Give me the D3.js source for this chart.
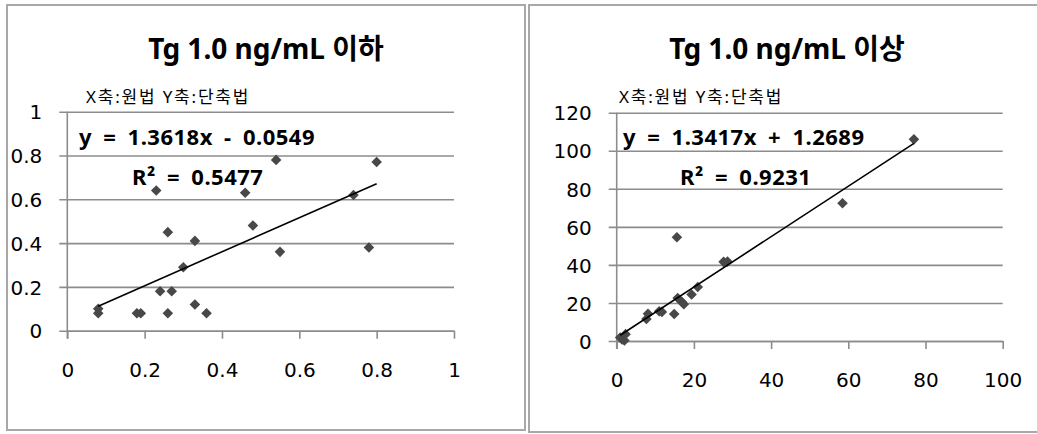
<!DOCTYPE html>
<html>
<head>
<meta charset="utf-8">
<script src="https://cdn.jsdelivr.net/npm/d3@7"></script>
<style>
  html, body { margin: 0; padding: 0; background: #fff; }
  svg text { font-family: "Noto Sans", "Noto Sans CJK KR", sans-serif; fill: #000; }
  svg .tick text { font-family: "DejaVu Sans", "Noto Sans", sans-serif; }
</style>
</head>
<body>
<svg id="chart" width="1037" height="434"></svg>
<script>
// Tg ≤ 1.0 ng/mL: original method (x) vs. shortened method (y)
const lowX = [0.08, 0.08, 0.18, 0.19, 0.23, 0.24, 0.26, 0.26, 0.27, 0.30,
              0.33, 0.33, 0.36, 0.46, 0.48, 0.54, 0.55, 0.74, 0.78, 0.80];
const lowY = [0.10, 0.08, 0.08, 0.08, 0.64, 0.18, 0.45, 0.08, 0.18, 0.29,
              0.41, 0.12, 0.08, 0.63, 0.48, 0.78, 0.36, 0.62, 0.38, 0.77];
const lowTicksX = [0, 0.2, 0.4, 0.6, 0.8, 1];
const lowTicksY = [0, 0.2, 0.4, 0.6, 0.8, 1];

// Tg ≥ 1.0 ng/mL
const highX = [0.9, 1.4, 2.0, 2.3, 7.7, 8.1, 11.0, 11.7, 14.9, 15.6,
               15.8, 16.9, 17.4, 19.4, 21.0, 27.7, 28.7, 58.5, 77.0];
const highY = [1.8, 0.8, 0.3, 3.6, 11.6, 14.3, 15.6, 15.3, 14.2, 54.5,
               22.6, 20.5, 19.3, 24.4, 28.4, 41.6, 41.8, 72.4, 106.0];
const highTicksX = [0, 20, 40, 60, 80, 100];
const highTicksY = [0, 20, 40, 60, 80, 100, 120];

const titles = ["Tg 1.0 ng/mL 이하", "Tg 1.0 ng/mL 이상"];
const axisNote = "X축:원법 Y축:단축법";
const equations = ["y = 1.3618x - 0.0549", "y = 1.3417x + 1.2689"];
const rSquared = ["R² = 0.5477", "R² = 0.9231"];

const svg = d3.select("#chart");
const gridColor = "#8c8c8c";

// least-squares fit used for the trend line
function fit(xs, ys) {
  const mx = d3.mean(xs), my = d3.mean(ys);
  let sxy = 0, sxx = 0;
  xs.forEach((x, i) => { sxy += (x - mx) * (ys[i] - my); sxx += (x - mx) * (x - mx); });
  const b = sxy / sxx;
  return { b, a: my - b * mx };
}

function panel(cfg) {
  const g = svg.append("g");

  // chart frame
  g.append("rect")
    .attr("x", cfg.frame[0]).attr("y", cfg.frame[1])
    .attr("width", cfg.frame[2]).attr("height", cfg.frame[3])
    .attr("fill", "none").attr("stroke", "#a8a8a8").attr("stroke-width", 2);

  const x = d3.scaleLinear().domain(cfg.xDomain).range(cfg.xRange);
  const y = d3.scaleLinear().domain(cfg.yDomain).range(cfg.yRange);

  // horizontal gridlines + y axis
  const yAxis = d3.axisLeft(y).tickValues(cfg.yTicks).tickSize(-(cfg.xRange[1] - cfg.xRange[0]))
    .tickSizeOuter(0).tickPadding(0).tickFormat(d3.format("~g"));
  const ya = g.append("g").attr("transform", `translate(${cfg.xRange[0]},0)`).call(yAxis);
  ya.select(".domain").remove();
  ya.selectAll(".tick line").attr("stroke", gridColor).attr("stroke-width", 1.6)
    .attr("x1", -8);
  ya.selectAll(".tick text").attr("x", -25).attr("font-size", 20).attr("dy", "0.36em");

  // x axis
  const xAxis = d3.axisBottom(x).tickValues(cfg.xTicks).tickSize(8).tickSizeOuter(0)
    .tickPadding(0).tickFormat(d3.format("~g"));
  const xa = g.append("g").attr("transform", `translate(0,${cfg.yRange[0]})`).call(xAxis);
  xa.select(".domain").attr("stroke", gridColor).attr("stroke-width", 1.6);
  xa.selectAll(".tick line").attr("stroke", gridColor).attr("stroke-width", 1.6);
  xa.selectAll(".tick text").attr("y", 39).attr("dy", "0.36em").attr("font-size", 20);

  // vertical axis line
  g.append("line")
    .attr("x1", cfg.xRange[0]).attr("x2", cfg.xRange[0])
    .attr("y1", cfg.yRange[1]).attr("y2", cfg.yRange[0] + 8)
    .attr("stroke", gridColor).attr("stroke-width", 1.6);

  // markers
  const diamond = d3.symbol().type(d3.symbolSquare).size(56);
  g.append("g").selectAll("path").data(cfg.xs.map((v, i) => [v, cfg.ys[i]])).join("path")
    .attr("d", diamond)
    .attr("transform", d => `translate(${x(d[0])},${y(d[1])}) rotate(45)`)
    .attr("fill", "#484848");

  // linear trend line across the data range
  const { a, b } = fit(cfg.xs, cfg.ys);
  const [x0, x1] = d3.extent(cfg.xs);
  g.append("line")
    .attr("x1", x(x0)).attr("y1", y(a + b * x0))
    .attr("x2", x(x1)).attr("y2", y(a + b * x1))
    .attr("stroke", "#000").attr("stroke-width", 1.6);

  // texts
  g.append("text").attr("x", cfg.titleX).attr("y", 59).attr("text-anchor", "middle")
    .attr("font-size", 28).attr("font-weight", "bold").text(cfg.title);
  g.append("text").attr("x", cfg.noteX).attr("y", 103).attr("font-size", 17)
    .attr("letter-spacing", 1.8).text(axisNote);
  g.append("text").attr("x", cfg.eqX).attr("y", 145).attr("font-size", 22)
    .attr("font-weight", "bold").attr("word-spacing", 5).attr("letter-spacing", 0.5)
    .text(cfg.eq);
  g.append("text").attr("x", cfg.r2X).attr("y", 185).attr("font-size", 22)
    .attr("font-weight", "bold").attr("word-spacing", 5).attr("letter-spacing", 0.5)
    .text(cfg.r2);
}

panel({
  frame: [7, 5, 518, 425],
  xDomain: [0, 1], xRange: [67.3, 454],
  yDomain: [0, 1], yRange: [330.7, 111.7],
  xTicks: lowTicksX, yTicks: lowTicksY,
  xs: lowX, ys: lowY,
  title: titles[0], titleX: 266, noteX: 86,
  eq: equations[0], eqX: 79, r2: rSquared[0], r2X: 132
});

panel({
  frame: [529, 5, 520, 427],
  xDomain: [0, 100], xRange: [616.7, 1002.7],
  yDomain: [0, 120], yRange: [341, 112.7],
  xTicks: highTicksX, yTicks: highTicksY,
  xs: highX, ys: highY,
  title: titles[1], titleX: 787, noteX: 619,
  eq: equations[1], eqX: 623, r2: rSquared[1], r2X: 680
});
</script>
</body>
</html>
